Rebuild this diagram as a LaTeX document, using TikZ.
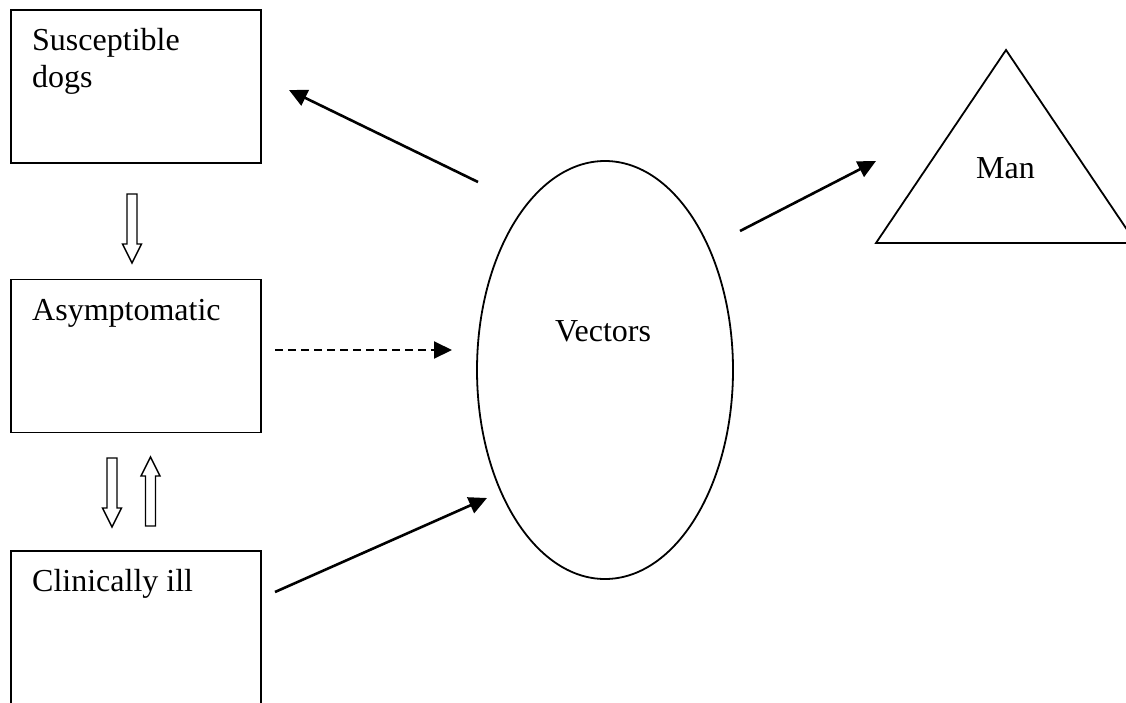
\documentclass[tikz,border=0pt]{standalone}
\usepackage{fontspec}
\setmainfont{Liberation Serif}
\usetikzlibrary{shapes.geometric,arrows.meta}
\tikzset{
  box/.style={draw, line width=1.8pt, minimum width=250pt, minimum height=153pt, inner sep=0pt},
  lbl/.style={anchor=base west, inner sep=0pt, align=left},
  arr/.style={line width=2.6pt, -{Triangle[length=18pt,width=17pt]}},
  blockarrow/.pic={\draw[line width=1.4pt] (-5,0) -- (-5,50) -- (-9.5,50) -- (0,69) -- (9.5,50) -- (5,50) -- (5,0) -- cycle;}
}
\begin{document}
\begin{tikzpicture}[x=1pt, y=-1pt, font=\fontsize{32}{37}\selectfont]
\useasboundingbox (0,0) rectangle (1126,702);
\clip (0,0) rectangle (1126,702);
% dog compartments
\foreach \n/\y in {sus/86.5, asy/356, cli/627.5} {
  \node[box] (\n) at (136,\y) {};
}
\node[lbl] (susl) at (32,87) {Susceptible\\dogs};
\node[lbl] (asyl) at (32,320) {Asymptomatic};
\node[lbl] (clil) at (32,591) {Clinically ill};
\pic at (132,194) {blockarrow};
\pic at (112,458) {blockarrow};
\pic[rotate=180] at (150.5,526) {blockarrow};
% vectors
\node[draw, ellipse, line width=1.8pt, minimum width=256pt, minimum height=418pt, inner sep=0pt] (vec) at (605,370) {};
\node[anchor=base, inner sep=0pt] (vecl) at (603,341) {Vectors};
% man
\coordinate (manT) at (1006,50);
\coordinate (manL) at (876,243);
\coordinate (manR) at (1136,243);
\draw[line width=1.8pt] (manL) -- (manT) -- (manR) -- cycle;
\node[lbl] (manl) at (976,178) {Man};
% connectors
\coordinate (a1s) at (478,182); \coordinate (a1e) at (289,90);
\coordinate (a2s) at (275,350); \coordinate (a2e) at (452,350);
\coordinate (a3s) at (275,592); \coordinate (a3e) at (487,498);
\coordinate (a4s) at (740,231); \coordinate (a4e) at (876,161);
\draw[arr] (a1s) -- (a1e);
\draw[arr, line width=2pt, dash pattern=on 8pt off 5pt] (a2s) -- (a2e);
\draw[arr] (a3s) -- (a3e);
\draw[arr] (a4s) -- (a4e);
\end{tikzpicture}
\end{document}
